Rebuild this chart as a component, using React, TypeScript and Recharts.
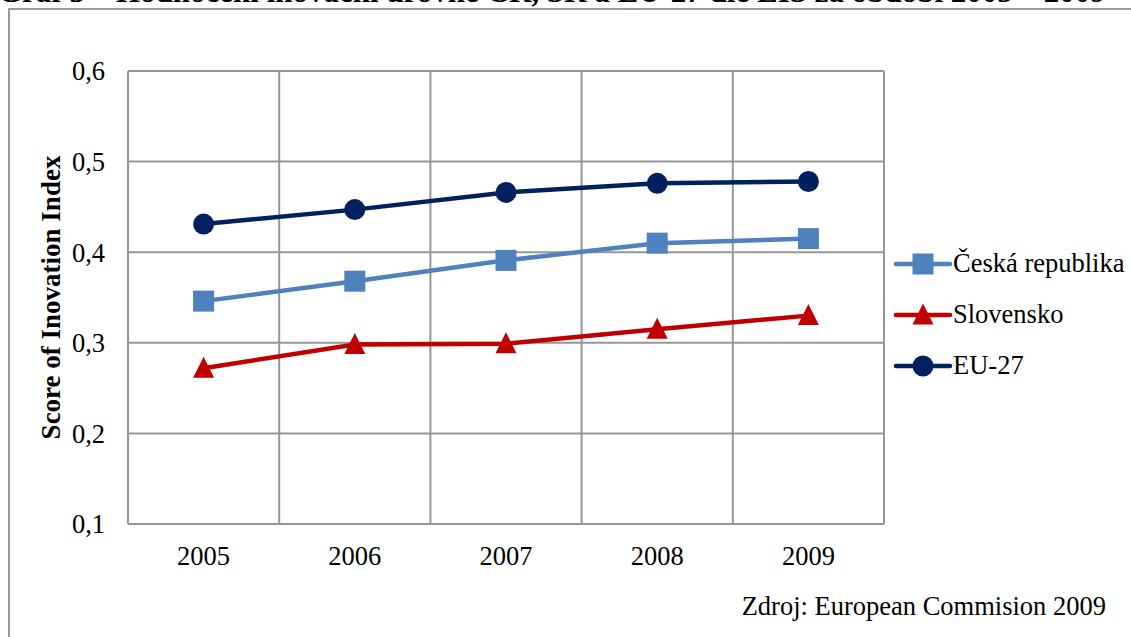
import React from 'react';
import { LineChart, Line, XAxis, YAxis, CartesianGrid } from 'recharts';

const years = ['2005', '2006', '2007', '2008', '2009'];
const ceskaRepublika = [0.346, 0.368, 0.391, 0.410, 0.415];
const slovensko = [0.272, 0.298, 0.299, 0.315, 0.330];
const eu27 = [0.431, 0.447, 0.466, 0.476, 0.478];
const yTicks = [0.1, 0.2, 0.3, 0.4, 0.5, 0.6];

const seriesDefs = [
  { key: 'cz', name: 'Česká republika', color: '#4F81BD', marker: 'square' },
  { key: 'sk', name: 'Slovensko', color: '#C00000', marker: 'triangle' },
  { key: 'eu', name: 'EU-27', color: '#002060', marker: 'circle' },
];

const data = years.map((y, i) => ({ year: y, cz: ceskaRepublika[i], sk: slovensko[i], eu: eu27[i] }));

const FONT = '"Liberation Serif", "Times New Roman", serif';
const GRID = '#969696';
const FS = 26.5;
const M = 10.5;

function Marker({ cx, cy, type, color }: { cx: number; cy: number; type: string; color: string }) {
  if (cx == null || cy == null) return null;
  if (type === 'square') {
    return <rect x={cx - M} y={cy - M} width={2 * M} height={2 * M} fill={color} />;
  }
  if (type === 'triangle') {
    return (
      <polygon
        points={`${cx},${cy - M - 1} ${cx + M},${cy + M - 1} ${cx - M},${cy + M - 1}`}
        fill={color}
      />
    );
  }
  return <circle cx={cx} cy={cy} r={M} fill={color} />;
}

function makeDot(type: string, color: string) {
  return (props: any) => <Marker key={props.index} cx={props.cx} cy={props.cy} type={type} color={color} />;
}

function LegendBox() {
  return (
    <div style={{ position: 'absolute', left: 893, top: 238, fontFamily: FONT, fontSize: FS, color: '#000' }}>
      {seriesDefs.map((s) => (
        <div key={s.key} style={{ display: 'flex', alignItems: 'center', height: 51, whiteSpace: 'nowrap' }}>
          <svg width={60} height={26} style={{ display: 'block' }}>
            <line x1={3} y1={13} x2={57} y2={13} stroke={s.color} strokeWidth={4.5} strokeLinecap="round" />
            <Marker cx={30} cy={13} type={s.marker} color={s.color} />
          </svg>
          <span>{s.name}</span>
        </div>
      ))}
    </div>
  );
}

export default function App() {
  return (
    <div style={{ position: 'absolute', left: 0, top: 0, width: 1131, height: 637, overflow: 'hidden', background: '#fff' }}>
      <div
        style={{
          position: 'absolute',
          left: -2,
          top: -24,
          whiteSpace: 'nowrap',
          fontFamily: FONT,
          fontWeight: 'bold',
          fontSize: 31,
          lineHeight: '31px',
          color: '#000',
        }}
      >
        Graf 3 – Hodnocení inovační úrovně ČR, SR a EU-27 dle EIS za období 2005 – 2009
      </div>
      <div
        style={{
          position: 'absolute',
          left: 8,
          top: 8,
          width: 1200,
          height: 700,
          border: '2px solid #9a9a9a',
          boxSizing: 'border-box',
        }}
      />
      <div style={{ position: 'absolute', left: 0, top: 0 }}>
        <LineChart
          width={1131}
          height={637}
          data={data}
          margin={{ top: 71, right: 247, bottom: 73, left: 68 }}
        >
          <CartesianGrid
            stroke={GRID}
            strokeWidth={2}
            verticalCoordinatesGenerator={({ offset }: any) =>
              years.map((_, i) => offset.left + (i * offset.width) / years.length).concat([offset.left + offset.width])
            }
          />
          <XAxis
            dataKey="year"
            scale="band"
            axisLine={{ stroke: GRID, strokeWidth: 2 }}
            tickLine={false}
            tickSize={0}
            tickMargin={22}
            height={40}
            tick={{ fill: '#000', fontSize: FS, fontFamily: FONT }}
          />
          <YAxis
            domain={[0.1, 0.6]}
            ticks={yTicks}
            width={60}
            axisLine={{ stroke: GRID, strokeWidth: 2 }}
            tickLine={false}
            tickSize={0}
            tickMargin={23}
            tickFormatter={(v: number) => v.toFixed(1).replace('.', ',')}
            tick={{ fill: '#000', fontSize: FS, fontFamily: FONT }}
            label={{
              value: 'Score of Inovation Index',
              angle: -90,
              position: 'insideLeft',
              offset: 0,
              dx: -18,
              style: { textAnchor: 'middle', fontFamily: FONT, fontWeight: 'bold', fontSize: 27, fill: '#000' },
            }}
          />
          {seriesDefs.map((s) => (
            <Line
              key={s.key}
              dataKey={s.key}
              name={s.name}
              stroke={s.color}
              strokeWidth={4.5}
              dot={makeDot(s.marker, s.color)}
              activeDot={false}
              isAnimationActive={false}
            />
          ))}
        </LineChart>
      </div>
      <LegendBox />
      <div
        style={{
          position: 'absolute',
          right: 25,
          top: 590,
          fontFamily: FONT,
          fontSize: FS,
          lineHeight: '32px',
          color: '#000',
          whiteSpace: 'nowrap',
        }}
      >
        Zdroj: European Commision 2009
      </div>
    </div>
  );
}
